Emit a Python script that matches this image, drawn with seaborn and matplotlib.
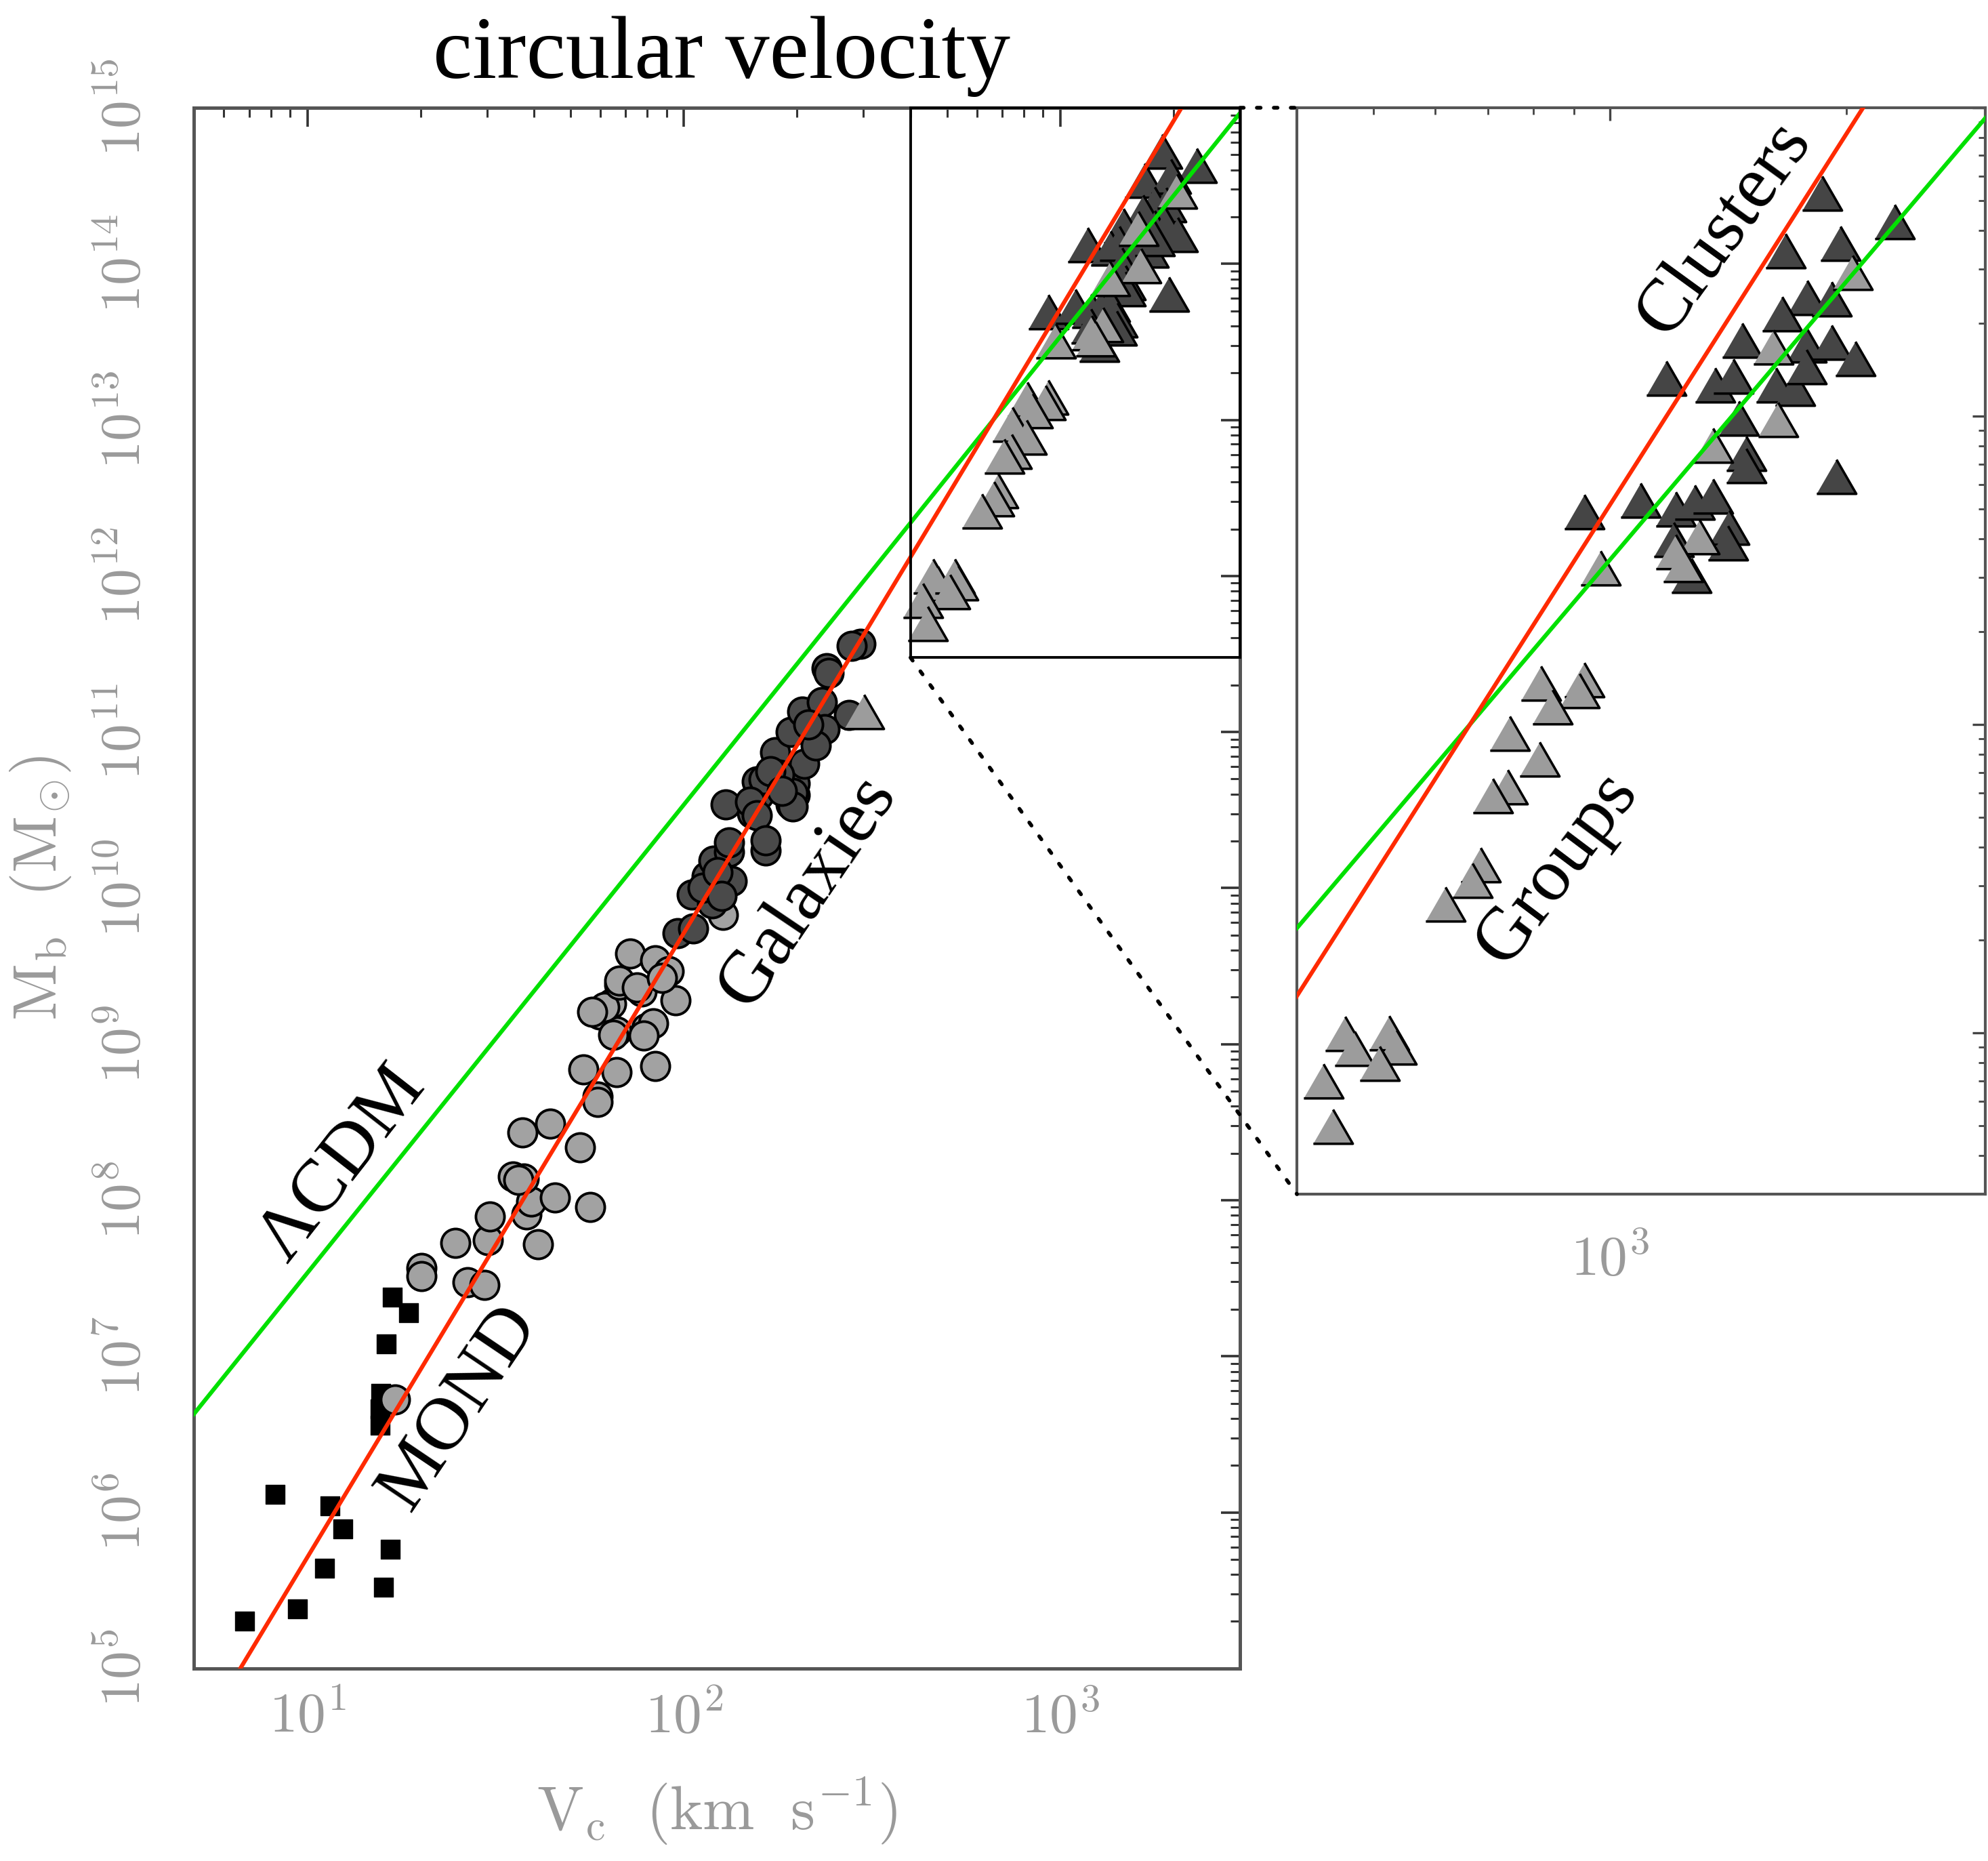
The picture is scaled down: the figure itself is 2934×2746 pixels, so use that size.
import numpy as np
import matplotlib
matplotlib.use('Agg')  # no display
import matplotlib.pyplot as plt
from matplotlib.patches import Rectangle, ConnectionPatch
from matplotlib.ticker import LogLocator, FuncFormatter, NullFormatter
import seaborn as sns

# dwarf spheroidals (black squares): V_c in km/s, M_b in Msun
dsph_v = [6.8, 9.4, 11.1, 8.2, 11.5, 12.4, 16.6, 15.9, 15.7, 15.6, 15.6, 16.8, 18.6, 16.2]
dsph_m = [2.0e5, 2.4e5, 4.4e5, 1.3e6, 1.1e6, 7.8e5, 5.8e5, 3.3e5, 5.8e6, 4.6e6, 3.6e6,
          2.4e7, 1.9e7, 1.2e7]

# gas rich galaxies (light grey circles)
gas_v = [17.1, 20.1, 20.1, 26.6, 29.5, 24.7, 30.1, 30.5, 41.0, 38.2, 39.4, 45.4, 56.5, 35.2,
         37.6, 36.3, 37.2, 44.1, 53.0, 54.2, 58.9, 58.9, 59.7, 66.4, 83.9, 66.4, 64.9, 64.1,
         61.5, 79.4, 82.8, 78.3, 95.1, 77.3, 67.3, 72.1, 67.3, 75.2, 83.9, 91.2, 87.5, 127, 57.0]
gas_m = [5.3e6, 3.66e7, 3.26e7, 2.99e7, 2.86e7, 5.33e7, 5.55e7, 7.83e7, 5.24e7, 8.13e7,
         9.84e7, 1.04e8, 9.06e7, 1.42e8, 1.38e8, 1.35e8, 2.72e8, 3.1e8, 2.19e8, 6.9e8,
         4.62e8, 4.27e8, 1.55e9, 6.64e8, 7.23e8, 1.21e9, 1.15e9, 1.81e9, 1.72e9, 1.27e9,
         1.36e9, 1.13e9, 1.90e9, 2.17e9, 2.40e9, 3.82e9, 2.56e9, 2.32e9, 3.46e9, 2.93e9,
         2.65e9, 6.75e9, 1.61e9]

# star dominated galaxies (dark grey circles)
star_v = [96.4, 106, 105, 115, 120, 132, 134, 119, 129, 165, 152, 158, 156, 175, 192, 192,
          197, 197, 209, 206, 295, 279, 240, 243, 275, 233, 237, 224, 163, 195, 195, 179,
          150, 156, 132, 165, 112, 123, 126, 170, 182, 214]
star_m = [5.16e9, 5.52e9, 9.1e9, 1.19e10, 1.5e10, 1.71e10, 1.11e10, 7.96e9, 3.45e10,
          1.74e10, 3.02e10, 3.94e10, 4.82e10, 7.43e10, 9.98e10, 3.45e10, 3.94e10, 4.66e10,
          6.28e10, 1.35e11, 3.67e11, 3.56e11, 2.55e11, 2.38e11, 1.29e11, 1.55e11, 1.04e11,
          8.2e10, 4.98e10, 4.07e10, 3.33e10, 5.32e10, 3.56e10, 2.92e10, 1.96e10, 2.02e10,
          1.0e10, 1.26e10, 8.9e9, 5.6e10, 4.2e10, 1.12e11]

# groups (light grey triangles)
group_v = [2037, 1614, 1637, 1352, 1300, 1213, 1239, 973, 817, 927, 914, 845, 745, 813,
           741, 710, 684, 668, 618, 460, 473, 524, 535, 509, 432, 444, 301]
group_m = [2.92e14, 1.68e14, 9.77e13, 8.04e13, 4.07e13, 3.63e13, 3.31e13, 3.22e13,
           1.36e13, 1.40e13, 1.29e13, 1.14e13, 9.38e12, 7.73e12, 6.27e12, 5.87e12,
           3.51e12, 3.13e12, 2.62e12, 9.98e11, 8.91e11, 1.0e12, 9.02e11, 7.96e11,
           6.98e11, 4.98e11, 1.35e11]

# clusters (dark grey triangles)
cluster_v = [1862, 2301, 1671, 1963, 1782, 1914, 1656, 1472, 1778, 1914, 2051, 1180, 1361,
             1435, 1626, 1718, 1778, 1459, 1489, 1489, 1941, 927, 1094, 1213, 1282, 1352,
             1419, 1205, 1268, 1413]
cluster_m = [5.28e14, 4.27e14, 3.43e14, 3.63e14, 2.42e14, 2.40e14, 2.15e14, 1.76e14,
             1.70e14, 1.74e14, 1.54e14, 1.33e14, 1.26e14, 1.35e14, 1.26e14, 1.23e14,
             1.45e14, 9.84e13, 7.59e13, 6.92e13, 6.37e13, 4.91e13, 5.35e13, 5.01e13,
             5.25e13, 5.50e13, 4.37e13, 3.98e13, 3.04e13, 3.89e13]

# model lines: log M = slope * log V + zero point
line_v = np.array([3.0, 6000.0])
lcdm_slope, lcdm_zp = 3.0, 4.534
mond_slope, mond_zp = 4.0, 1.712
lcdm_m = 10 ** (lcdm_zp + lcdm_slope * np.log10(line_v))
mond_m = 10 ** (mond_zp + mond_slope * np.log10(line_v))

sns.set_style("white")
plt.rcParams['mathtext.fontset'] = 'cm'
plt.rcParams['font.family'] = ['Liberation Serif', 'DejaVu Serif']

GREY_TXT = '#9a9a9a'
TRI = np.array([[-1.0, -0.866], [1.0, -0.866], [0.0, 0.866]])

fig = plt.figure(figsize=(14.67, 13.73), dpi=200)
ax = fig.add_axes([0.0976, 0.1035, 0.5261, 0.8386])
ax2 = fig.add_axes([0.6524, 0.3583, 0.3461, 0.5838])


def draw_data(a):
    a.set_xscale('log')
    a.set_yscale('log')
    sns.scatterplot(x=dsph_v, y=dsph_m, ax=a, marker='s', s=95, color='black',
                    edgecolor='black', linewidth=0.5, zorder=3, legend=False)
    sns.scatterplot(x=gas_v, y=gas_m, ax=a, marker='o', s=230, color='#a2a2a2',
                    edgecolor='black', linewidth=1.4, zorder=3, legend=False)
    sns.scatterplot(x=star_v, y=star_m, ax=a, marker='o', s=230, color='#4a4a4a',
                    edgecolor='black', linewidth=1.4, zorder=3, legend=False)
    sns.scatterplot(x=cluster_v, y=cluster_m, ax=a, marker=TRI, s=440, color='#454545',
                    edgecolor='black', linewidth=1.3, zorder=3, legend=False)
    sns.scatterplot(x=group_v, y=group_m, ax=a, marker=TRI, s=440, color='#9c9c9c',
                    edgecolor='black', linewidth=1.3, zorder=3, legend=False)
    sns.lineplot(x=line_v, y=lcdm_m, ax=a, color='#00e000', lw=2.2, errorbar=None, zorder=5)
    sns.lineplot(x=line_v, y=mond_m, ax=a, color='#ff2a00', lw=2.2, errorbar=None, zorder=5)
    a.set_xlabel('')
    a.set_ylabel('')


def pow10(val, pos):
    return r'$10^{%d}$' % int(round(np.log10(val)))


# main panel
draw_data(ax)
ax.set_xlim(5, 3000)
ax.set_ylim(1e5, 1e15)
ax.xaxis.set_major_locator(LogLocator(base=10, numticks=20))
ax.yaxis.set_major_locator(LogLocator(base=10, numticks=20))
ax.xaxis.set_minor_locator(LogLocator(base=10, subs=np.arange(2, 10), numticks=100))
ax.yaxis.set_minor_locator(LogLocator(base=10, subs=np.arange(2, 10), numticks=100))
ax.xaxis.set_major_formatter(FuncFormatter(pow10))
ax.yaxis.set_major_formatter(FuncFormatter(pow10))
ax.xaxis.set_minor_formatter(NullFormatter())
ax.yaxis.set_minor_formatter(NullFormatter())
ax.tick_params(which='both', direction='in', top=True, right=True, colors='#333333',
               labelcolor=GREY_TXT, labelsize=30)
ax.tick_params(which='major', length=10, width=1.3)
ax.tick_params(which='minor', length=5, width=1.1)
ax.tick_params(axis='x', pad=13)
ax.tick_params(axis='y', pad=22, labelrotation=90)
for lab in ax.get_yticklabels():
    lab.set_va('center')
for sp in ax.spines.values():
    sp.set_color('#555555')
    sp.set_linewidth(1.8)
ax.set_xlabel(r'$\mathrm{V_c\ \ (km\ \ s^{-1})}$', fontsize=33, color=GREY_TXT, labelpad=16)
ax.set_ylabel(r'$\mathrm{M_b\ \ (M_{\odot})}$', fontsize=33, color=GREY_TXT, labelpad=14)

# zoom box
ax.add_patch(Rectangle((400, 3e11), 2600, 1e15 - 3e11, fill=False, ec='black',
                       lw=1.4, zorder=6, clip_on=False))

# zoomed panel
draw_data(ax2)
ax2.set_xlim(400, 3000)
ax2.set_ylim(3e11, 1e15)
ax2.xaxis.set_major_locator(LogLocator(base=10, numticks=20))
ax2.yaxis.set_major_locator(LogLocator(base=10, numticks=20))
ax2.xaxis.set_minor_locator(LogLocator(base=10, subs=np.arange(2, 10), numticks=100))
ax2.yaxis.set_minor_locator(LogLocator(base=10, subs=np.arange(2, 10), numticks=100))
ax2.xaxis.set_major_formatter(FuncFormatter(pow10))
ax2.xaxis.set_minor_formatter(NullFormatter())
ax2.tick_params(which='both', direction='in', top=True, right=True, colors='#444444',
                labelcolor=GREY_TXT, labelsize=30, labelleft=False)
ax2.tick_params(which='major', length=7, width=1.2)
ax2.tick_params(which='minor', length=3.5, width=1.0)
ax2.tick_params(axis='x', pad=22)
for sp in ax2.spines.values():
    sp.set_color('#555555')
    sp.set_linewidth(1.5)

# dotted connectors
for xa, xb in [((3000, 1e15), (400, 1e15)), ((400, 3e11), (400, 3e11))]:
    con = ConnectionPatch(xyA=xa, coordsA=ax.transData, xyB=xb, coordsB=ax2.transData,
                          color='black', lw=2.0, linestyle=(0, (1, 3.5)))
    fig.add_artist(con)

# labels
txt = dict(fontsize=40, color='black', ha='center', va='center', zorder=7)
ax.text(12.4, 1.7e8, 'ΛCDM', rotation=52, **txt)
ax.text(25.3, 4.7e6, 'MOND', rotation=56, **txt)
ax.text(213, 9.5e9, 'Galaxies', rotation=56, **txt)
ax2.text(1400, 4.06e14, 'Clusters', rotation=54, **txt)
ax2.text(857, 3.41e12, 'Groups', rotation=53, **txt)

fig.text(0.363, 0.958, 'circular velocity', fontsize=47, color='black',
         ha='center', va='baseline')

fig.savefig('out.png', dpi=200)
